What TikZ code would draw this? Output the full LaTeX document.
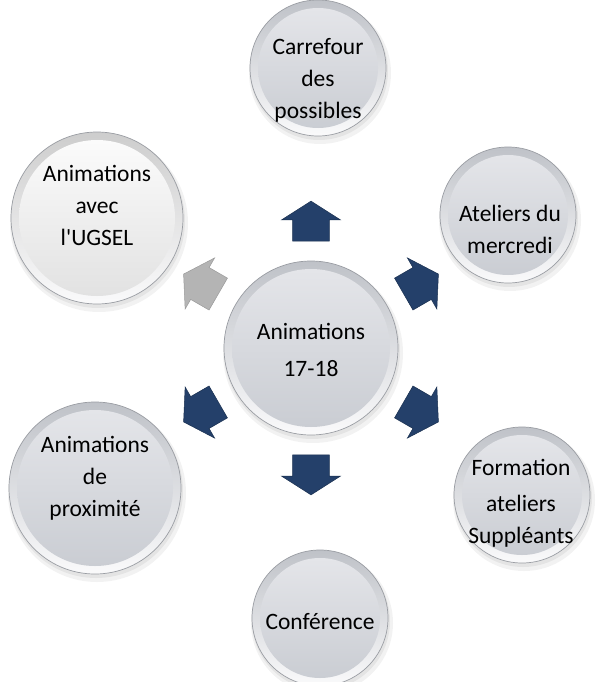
\documentclass[tikz,border=0pt]{standalone}
\usepackage{fontspec}
\setmainfont{Carlito}
\usetikzlibrary{shapes.arrows,calc}
\definecolor{navy}{HTML}{24406A}
\definecolor{navyedge}{HTML}{1A3050}
\definecolor{garrow}{HTML}{B4B4B4}
\definecolor{garrowedge}{HTML}{9A9A9A}
\definecolor{rimtop}{HTML}{BFC2C8}
\definecolor{rimbot}{HTML}{FAFAFB}
\definecolor{intop}{HTML}{E4E5E9}
\definecolor{inbot}{HTML}{CACDD3}
\definecolor{edgec}{HTML}{9A9DA3}
\definecolor{wrimtop}{HTML}{CDCDCD}
\definecolor{wintop}{HTML}{FBFBFB}
\definecolor{winbot}{HTML}{E2E2E2}
\tikzset{
  txt/.style={align=center, font=\fontsize{23.5}{32}\selectfont, inner sep=0pt},
  blockarrow/.style={single arrow, line width=0.5pt, minimum height=40pt,
    minimum width=59pt, inner xsep=0pt, inner ysep=18pt,
    single arrow head extend=11pt, single arrow tip angle=115, anchor=center},
  navyarrow/.style={blockarrow, fill=navy, draw=navyedge},
  grayarrow/.style={blockarrow, fill=garrow, draw=garrowedge}
}
% #1 x, #2 y, #3 radius, #4 rim top, #5 inner top, #6 inner bottom
\newcommand\btndisc[6]{%
  \fill[black, opacity=0.05] (#1+2,#2+5) circle[radius=#3pt+3pt];
  \fill[black, opacity=0.06] (#1+1,#2+3) circle[radius=#3pt+1pt];
  \shade[top color=#4, bottom color=rimbot, draw=edgec, line width=0.7pt] (#1,#2) circle[radius=#3pt];
  \shade[top color=#5, bottom color=#6] (#1,#2) circle[radius=#3pt-8pt];
}
\begin{document}
\begin{tikzpicture}[x=1pt,y=-1pt]
\useasboundingbox (0,0) rectangle (606,682);
% outer discs
\btndisc{318}{68}{68}{rimtop}{intop}{inbot}
\btndisc{508}{215}{68}{rimtop}{intop}{inbot}
\btndisc{522}{495}{68}{rimtop}{intop}{inbot}
\btndisc{320}{618}{68}{rimtop}{intop}{inbot}
\btndisc{95}{488}{86}{rimtop}{intop}{inbot}
\btndisc{97}{218}{86}{wrimtop}{wintop}{winbot}
% center disc
\btndisc{311}{348}{87}{rimtop}{intop}{inbot}
% texts
\node[txt] (carrefour) at (318,80) {Carrefour\\des\\possibles};
\node[txt] (ateliers) at (510,229) {Ateliers du\\mercredi};
\node[txt] (formation) at (521,503) {Formation\\[4pt]ateliers\\Suppléants};
\node[txt] (conference) at (320,622) {Conférence};
\node[txt] (proximite) at (95,478) {Animations\\de\\proximité};
\node[txt] (ugsel) at (97,205) {Animations\\avec\\l\textquotesingle UGSEL};
\node[txt, font=\fontsize{23.5}{37}\selectfont] (center) at (311,350) {Animations\\17-18};
% arrows
\node[navyarrow, rotate=90] (aup) at (311,227) {};
\node[navyarrow, rotate=30] (aur) at (416,287) {};
\node[navyarrow, rotate=-30] (adr) at (416,409) {};
\node[navyarrow, rotate=-90] (adn) at (311,469) {};
\node[navyarrow, rotate=-150] (adl) at (206,409) {};
\node[grayarrow, rotate=150] (aul) at (206,287) {};
\end{tikzpicture}
\end{document}
